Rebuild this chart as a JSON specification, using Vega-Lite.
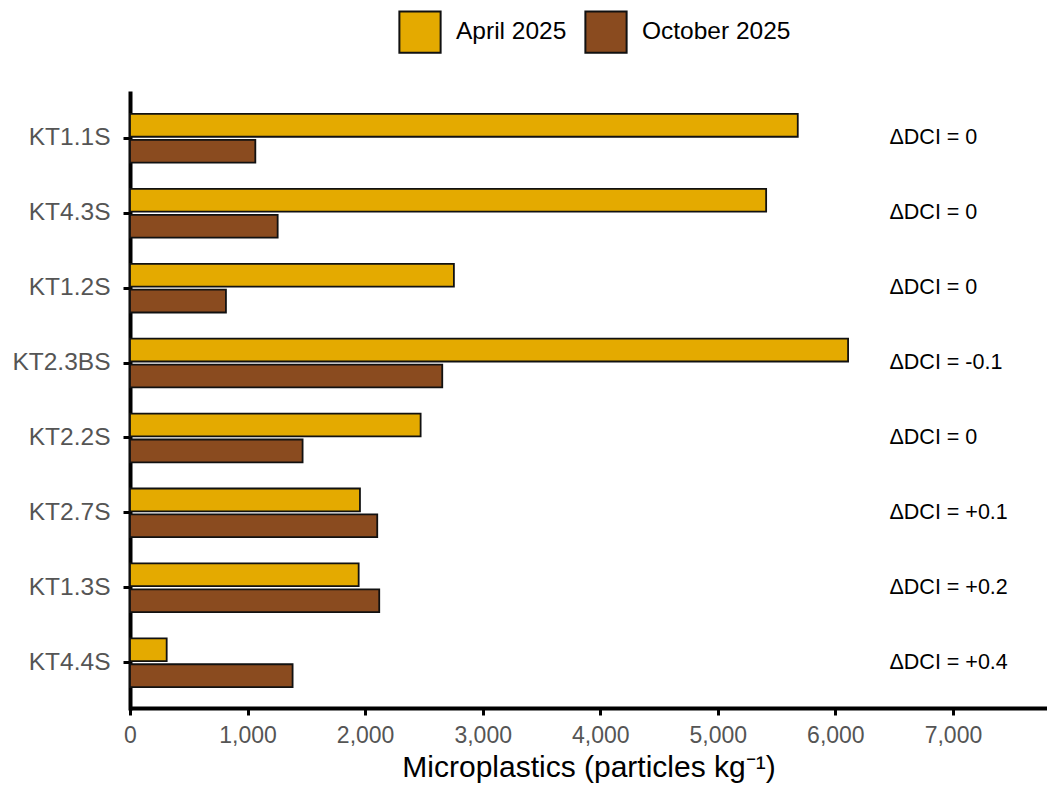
{
  "$schema": "https://vega.github.io/schema/vega-lite/v6.json",
  "autosize": "none",
  "width": 917,
  "height": 615,
  "padding": {"left": 130, "top": 93, "right": 0, "bottom": 79},
  "background": "white",
  "config": {
    "view": {"stroke": null},
    "font": "Liberation Sans",
    "axis": {
      "domainColor": "black",
      "domainWidth": 4,
      "tickColor": "black",
      "tickWidth": 3,
      "grid": false,
      "labelFont": "Liberation Sans",
      "labelColor": "#555555",
      "titleFont": "Liberation Sans",
      "titleColor": "black",
      "titleFontWeight": "normal"
    }
  },
  "datasets": {
    "bars": [
      {"site": "KT1.1S", "period": "April 2025", "value": 5680},
      {"site": "KT1.1S", "period": "October 2025", "value": 1066},
      {"site": "KT4.3S", "period": "April 2025", "value": 5411},
      {"site": "KT4.3S", "period": "October 2025", "value": 1256},
      {"site": "KT1.2S", "period": "April 2025", "value": 2755},
      {"site": "KT1.2S", "period": "October 2025", "value": 816},
      {"site": "KT2.3BS", "period": "April 2025", "value": 6108},
      {"site": "KT2.3BS", "period": "October 2025", "value": 2656},
      {"site": "KT2.2S", "period": "April 2025", "value": 2472},
      {"site": "KT2.2S", "period": "October 2025", "value": 1468},
      {"site": "KT2.7S", "period": "April 2025", "value": 1956},
      {"site": "KT2.7S", "period": "October 2025", "value": 2103},
      {"site": "KT1.3S", "period": "April 2025", "value": 1945},
      {"site": "KT1.3S", "period": "October 2025", "value": 2120},
      {"site": "KT4.4S", "period": "April 2025", "value": 312},
      {"site": "KT4.4S", "period": "October 2025", "value": 1383}
    ],
    "dci": [
      {"site": "KT1.1S", "label": "ΔDCI = 0"},
      {"site": "KT4.3S", "label": "ΔDCI = 0"},
      {"site": "KT1.2S", "label": "ΔDCI = 0"},
      {"site": "KT2.3BS", "label": "ΔDCI = -0.1"},
      {"site": "KT2.2S", "label": "ΔDCI = 0"},
      {"site": "KT2.7S", "label": "ΔDCI = +0.1"},
      {"site": "KT1.3S", "label": "ΔDCI = +0.2"},
      {"site": "KT4.4S", "label": "ΔDCI = +0.4"}
    ]
  },
  "layer": [
    {
      "data": {"name": "bars"},
      "mark": {"type": "bar", "stroke": "#111111", "strokeWidth": 1.8},
      "encoding": {
        "y": {
          "field": "site",
          "type": "nominal",
          "sort": ["KT1.1S", "KT4.3S", "KT1.2S", "KT2.3BS", "KT2.2S", "KT2.7S", "KT1.3S", "KT4.4S"],
          "scale": {"paddingInner": 0.35, "paddingOuter": 0.28},
          "axis": {
            "title": null,
            "labelFontSize": 24.5,
            "labelPadding": 13,
            "tickSize": 7,
            "domainCap": "square"
          }
        },
        "yOffset": {
          "field": "period",
          "type": "nominal",
          "sort": ["April 2025", "October 2025"],
          "scale": {"paddingInner": 0.12, "paddingOuter": 0}
        },
        "x": {
          "field": "value",
          "type": "quantitative",
          "scale": {"domain": [0, 7800], "nice": false, "zero": true},
          "axis": {
            "title": "Microplastics (particles kg⁻¹)",
            "values": [0, 1000, 2000, 3000, 4000, 5000, 6000, 7000],
            "format": ",.0f",
            "labelFlush": false,
            "labelFontSize": 23,
            "labelPadding": 9,
            "tickSize": 7,
            "titleFontSize": 30,
            "titlePadding": 5
          }
        },
        "fill": {
          "field": "period",
          "type": "nominal",
          "scale": {"domain": ["April 2025", "October 2025"], "range": ["#E4AA00", "#8A4B1F"]},
          "legend": {
            "title": null,
            "orient": "none",
            "direction": "horizontal",
            "legendX": 268,
            "legendY": -83,
            "padding": 0,
            "symbolType": "square",
            "symbolSize": 1700,
            "symbolStrokeColor": "#111111",
            "symbolStrokeWidth": 2,
            "symbolOpacity": 1,
            "labelFont": "Liberation Sans",
            "labelFontSize": 24.5,
            "labelColor": "black",
            "labelOffset": 14,
            "columnPadding": 14
          }
        }
      }
    },
    {
      "data": {"name": "dci"},
      "mark": {"type": "text", "align": "left", "baseline": "middle", "fontSize": 21.5, "color": "black", "font": "Liberation Sans"},
      "encoding": {
        "y": {
          "field": "site",
          "type": "nominal",
          "sort": ["KT1.1S", "KT4.3S", "KT1.2S", "KT2.3BS", "KT2.2S", "KT2.7S", "KT1.3S", "KT4.4S"]
        },
        "x": {"datum": 6460},
        "text": {"field": "label"}
      }
    }
  ]
}
